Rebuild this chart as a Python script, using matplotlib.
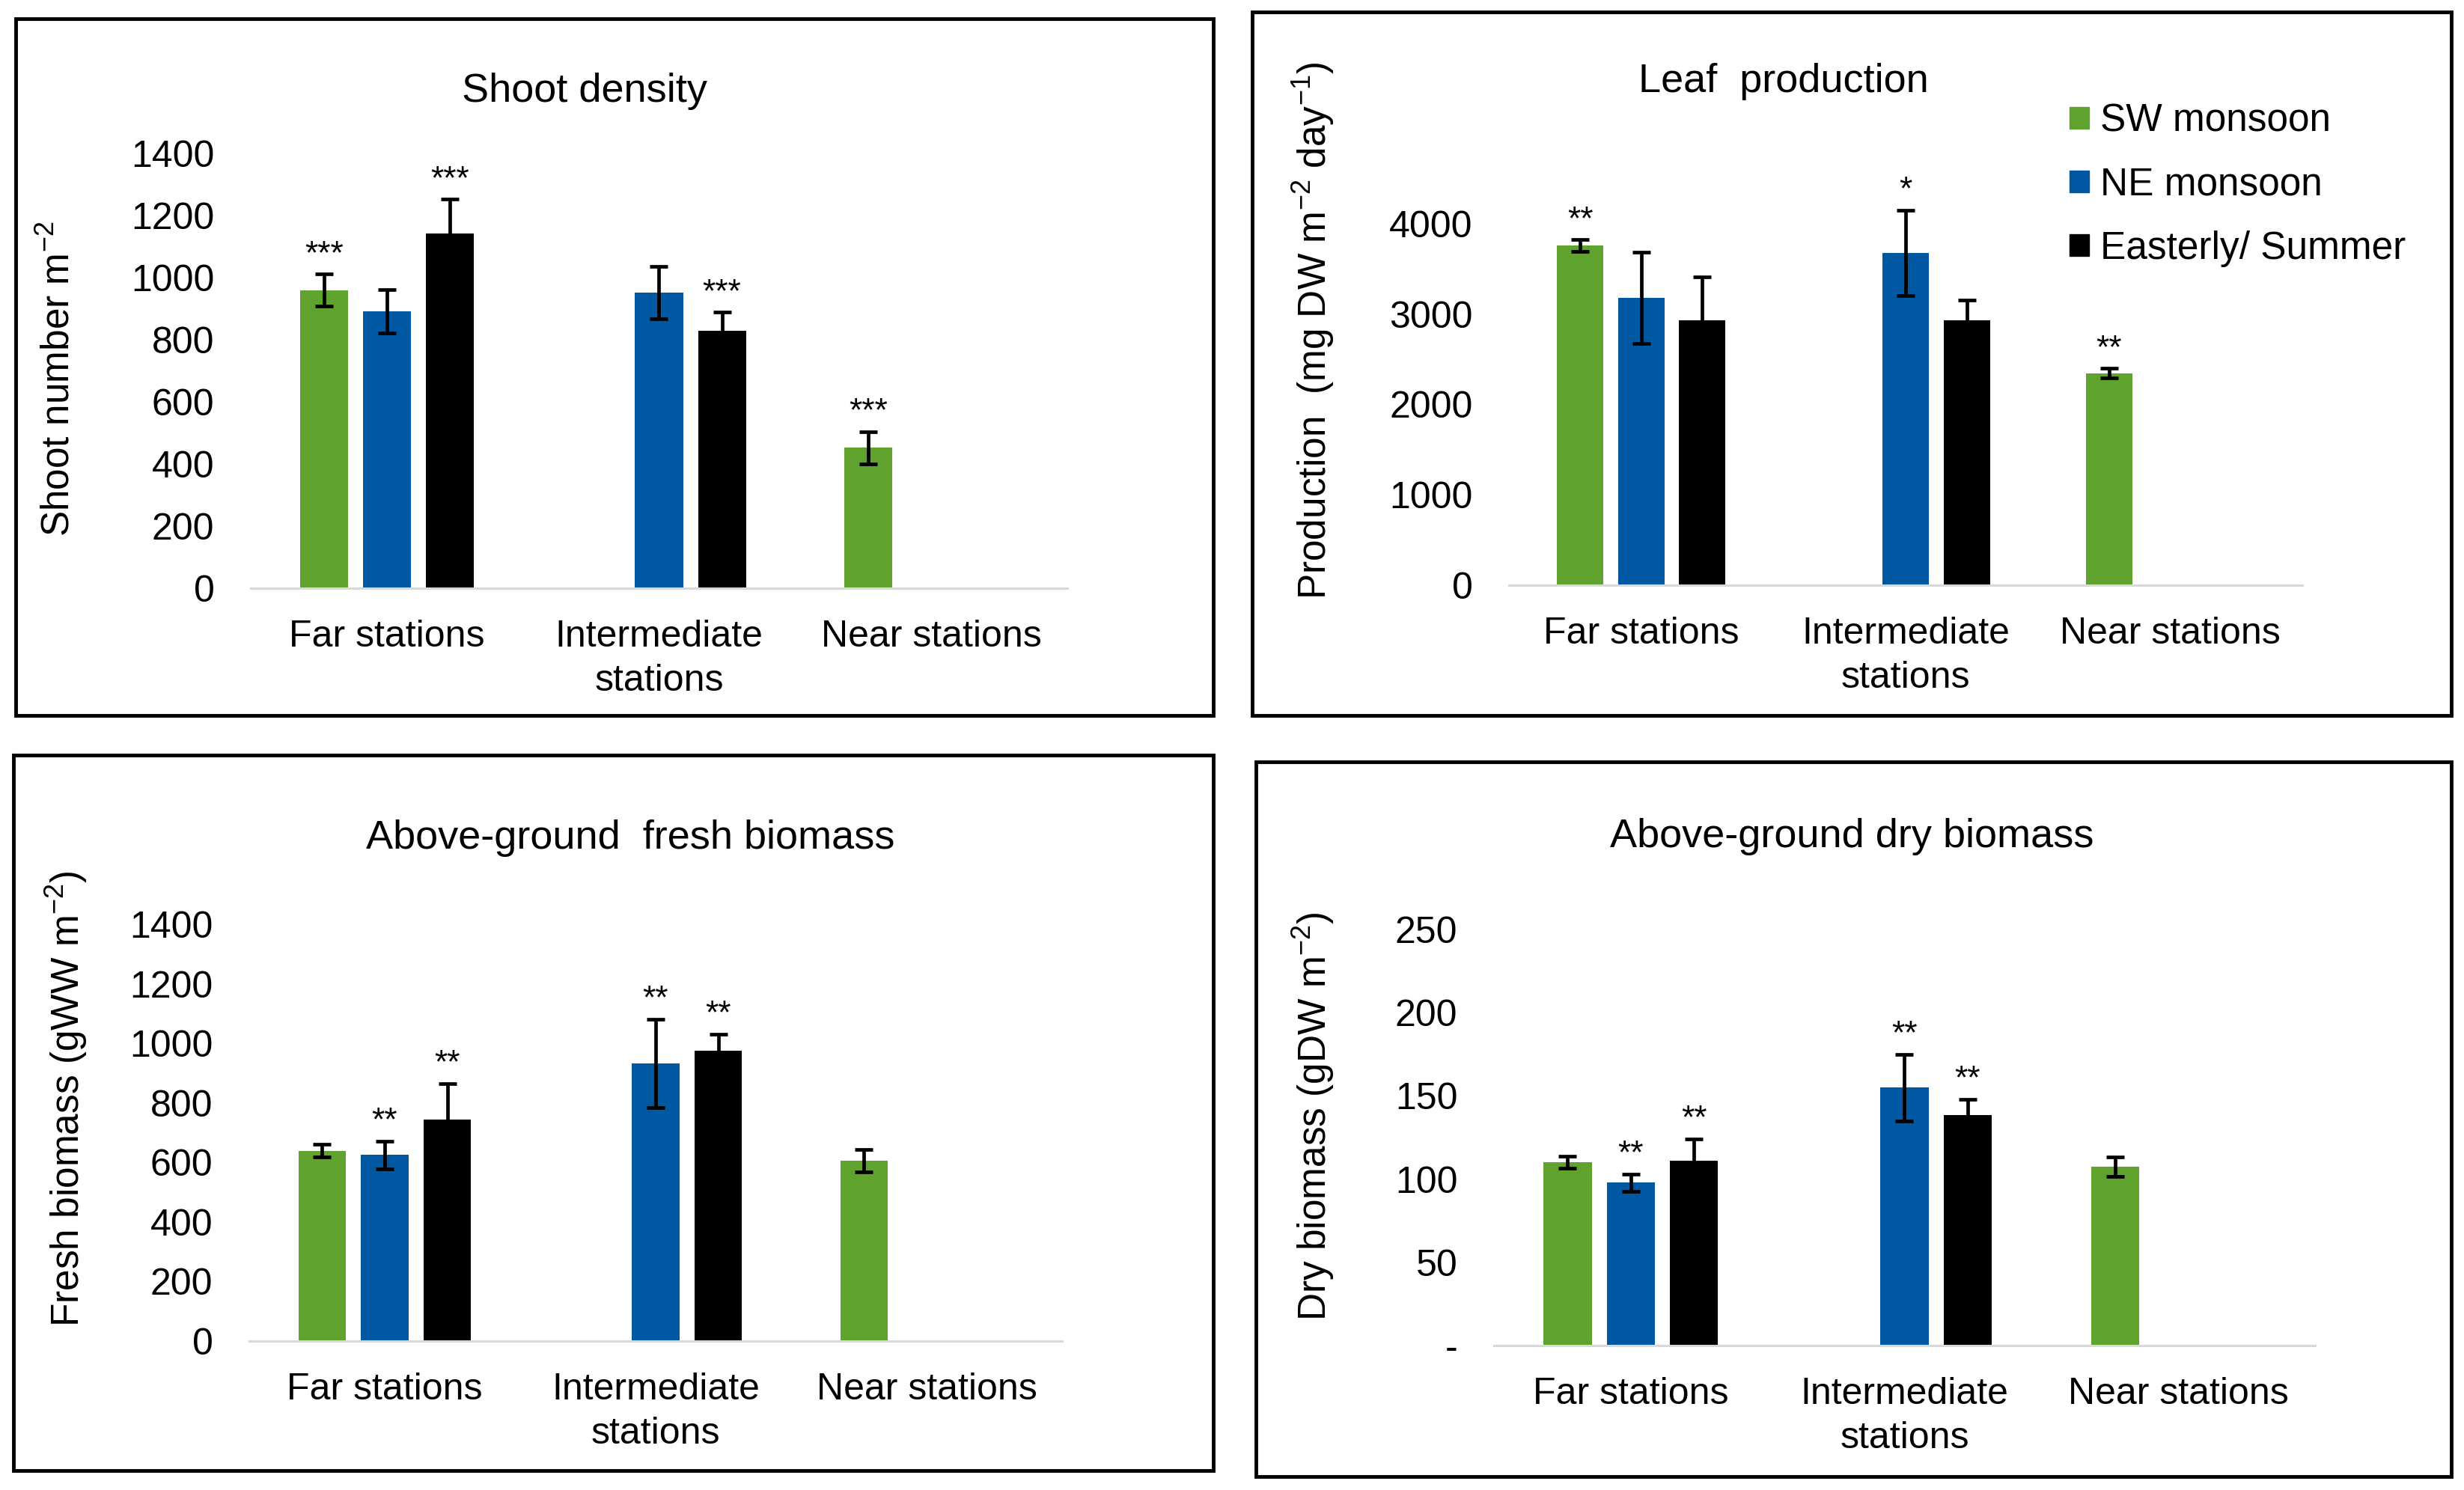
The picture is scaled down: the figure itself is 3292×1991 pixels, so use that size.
import numpy as np
import matplotlib
matplotlib.use("Agg")
import matplotlib.pyplot as plt
from matplotlib.patches import Patch, Rectangle

plt.rcParams["font.family"] = ["Liberation Sans", "DejaVu Sans"]
plt.rcParams["mathtext.fontset"] = "custom"
plt.rcParams["mathtext.rm"] = "Liberation Sans"
plt.rcParams["mathtext.default"] = "regular"

nan = np.nan

categories = ["Far stations", "Intermediate\nstations", "Near stations"]
seasons = ["SW monsoon", "NE monsoon", "Easterly/ Summer"]
season_colors = ["#5fa22e", "#0058a3", "#000000"]

# Shoot density (shoots m-2)
shoot_sw = [960, nan, 452]
shoot_ne = [891, 951, nan]
shoot_es = [1141, 830, nan]
shoot_sw_err = [51, nan, 51]
shoot_ne_err = [70, 84, nan]
shoot_es_err = [111, 58, nan]
shoot_sw_sig = ["***", "", "***"]
shoot_ne_sig = ["", "", ""]
shoot_es_sig = ["***", "***", ""]

# Leaf production (mg DW m-2 day-1)
leaf_sw = [3757, nan, 2346]
leaf_ne = [3178, 3674, nan]
leaf_es = [2930, 2930, nan]
leaf_sw_err = [65, nan, 52]
leaf_ne_err = [505, 473, nan]
leaf_es_err = [480, 228, nan]
leaf_sw_sig = ["**", "", "**"]
leaf_ne_sig = ["", "*", ""]
leaf_es_sig = ["", "", ""]

# Above-ground fresh biomass (gWW m-2)
fresh_sw = [639, nan, 606]
fresh_ne = [625, 933, nan]
fresh_es = [744, 975, nan]
fresh_sw_err = [21, nan, 38]
fresh_ne_err = [46, 148, nan]
fresh_es_err = [121, 55, nan]
fresh_sw_sig = ["", "", ""]
fresh_ne_sig = ["**", "**", ""]
fresh_es_sig = ["**", "**", ""]

# Above-ground dry biomass (gDW m-2)
dry_sw = [110, nan, 107.5]
dry_ne = [97.8, 155, nan]
dry_es = [111, 138.5, nan]
dry_sw_err = [3.6, nan, 6]
dry_ne_err = [5, 20, nan]
dry_es_err = [13, 9.5, nan]
dry_sw_sig = ["", "", ""]
dry_ne_sig = ["**", "**", ""]
dry_es_sig = ["**", "**", ""]

shoot_ticks = [0, 200, 400, 600, 800, 1000, 1200, 1400]
leaf_ticks = [0, 1000, 2000, 3000, 4000]
fresh_ticks = [0, 200, 400, 600, 800, 1000, 1200, 1400]
dry_ticks = [0, 50, 100, 150, 200, 250]
dry_tick_labels = ["-", "50", "100", "150", "200", "250"]

W, H = 3292, 1991
fig = plt.figure(figsize=(W / 100, H / 100), dpi=100)


def axes_rect(left, right, y_zero, y_top):
    return [left / W, 1 - y_zero / H, (right - left) / W, (y_zero - y_top) / H]


def add_box(x0, y0, x1, y1):
    fig.add_artist(Rectangle((x0 / W, 1 - y1 / H), (x1 - x0) / W, (y1 - y0) / H,
                             transform=fig.transFigure, fill=False,
                             edgecolor="black", linewidth=3.5))


def draw_panel(ax, means, errs, sigs, ylim, yticks, yticklabels=None):
    offsets = [-0.231, 0.0, 0.231]
    x = np.arange(len(categories))
    for k in range(3):
        m = np.array(means[k], dtype=float)
        e = np.array(errs[k], dtype=float)
        ok = ~np.isnan(m)
        ax.bar(x[ok] + offsets[k], m[ok], width=0.176, color=season_colors[k],
               yerr=e[ok], error_kw=dict(ecolor="black", elinewidth=3.4,
                                         capsize=8.5, capthick=3.4))
        for i in range(len(categories)):
            if ok[i] and sigs[k][i]:
                ax.annotate(sigs[k][i], (x[i] + offsets[k], m[i] + e[i]),
                            xytext=(0, 4), textcoords="offset points",
                            ha="center", va="bottom", fontsize=32)
    ax.set_xlim(-0.5, 2.5)
    ax.set_ylim(*ylim)
    ax.set_yticks(yticks)
    if yticklabels is not None:
        ax.set_yticklabels(yticklabels)
    ax.set_xticks(x)
    ax.set_xticklabels(categories, linespacing=1.38)
    for side in ["top", "right", "left"]:
        ax.spines[side].set_visible(False)
    ax.spines["bottom"].set_color("#d9d9d9")
    ax.spines["bottom"].set_linewidth(2.2)
    ax.tick_params(axis="both", length=0, labelsize=36)
    ax.tick_params(axis="y", pad=35)
    ax.tick_params(axis="x", pad=30)


# Shoot density
ax1 = fig.add_axes(axes_rect(335, 1426, 786, 205))
draw_panel(ax1, [shoot_sw, shoot_ne, shoot_es],
           [shoot_sw_err, shoot_ne_err, shoot_es_err],
           [shoot_sw_sig, shoot_ne_sig, shoot_es_sig],
           (0, 1400), shoot_ticks)
add_box(21, 25, 1621, 956)
fig.text(781 / W, 1 - 122 / H, "Shoot density", ha="center", va="center", fontsize=39)
fig.text(79 / W, 1 - 506 / H, "Shoot number m$^{-2}$", rotation=90,
         ha="center", va="center", fontsize=37)

# Leaf production
ax2 = fig.add_axes(axes_rect(2016, 3076, 782, 782 - 4.5 * 120.75))
draw_panel(ax2, [leaf_sw, leaf_ne, leaf_es],
           [leaf_sw_err, leaf_ne_err, leaf_es_err],
           [leaf_sw_sig, leaf_ne_sig, leaf_es_sig],
           (0, 4500), leaf_ticks)
add_box(1673, 16, 3275, 956)
fig.text(2383 / W, 1 - 109 / H, "Leaf  production", ha="center", va="center", fontsize=39)
fig.text(1755 / W, 1 - 442 / H, "Production  (mg DW m$^{-2}$ day$^{-1}$)", rotation=90,
         ha="center", va="center", fontsize=37)
handles = [Patch(color=c, label=s) for c, s in zip(season_colors, seasons)]
ax2.legend(handles=handles, loc="upper left", bbox_to_anchor=(2765 / W, 1 - 138 / H),
           bbox_transform=fig.transFigure, frameon=False, fontsize=37,
           handlelength=0.5, handleheight=0.5, handletextpad=0.3,
           labelspacing=0.7, borderaxespad=0, borderpad=0)

# Fresh biomass
ax3 = fig.add_axes(axes_rect(333, 1419, 1792, 1235))
draw_panel(ax3, [fresh_sw, fresh_ne, fresh_es],
           [fresh_sw_err, fresh_ne_err, fresh_es_err],
           [fresh_sw_sig, fresh_ne_sig, fresh_es_sig],
           (0, 1400), fresh_ticks)
add_box(18, 1009, 1621, 1965)
fig.text(842 / W, 1 - 1120 / H, "Above-ground  fresh biomass", ha="center", va="center", fontsize=39)
fig.text(89 / W, 1 - 1468 / H, "Fresh biomass (gWW m$^{-2}$)", rotation=90,
         ha="center", va="center", fontsize=37)

# Dry biomass
ax4 = fig.add_axes(axes_rect(1996, 3093, 1798, 1242))
draw_panel(ax4, [dry_sw, dry_ne, dry_es],
           [dry_sw_err, dry_ne_err, dry_es_err],
           [dry_sw_sig, dry_ne_sig, dry_es_sig],
           (0, 250), dry_ticks, dry_tick_labels)
add_box(1678, 1018, 3275, 1973)
fig.text(2474 / W, 1 - 1118 / H, "Above-ground dry biomass", ha="center", va="center", fontsize=39)
fig.text(1755 / W, 1 - 1492 / H, "Dry biomass (gDW m$^{-2}$)", rotation=90,
         ha="center", va="center", fontsize=37)

fig.savefig("out.png", dpi=100)
